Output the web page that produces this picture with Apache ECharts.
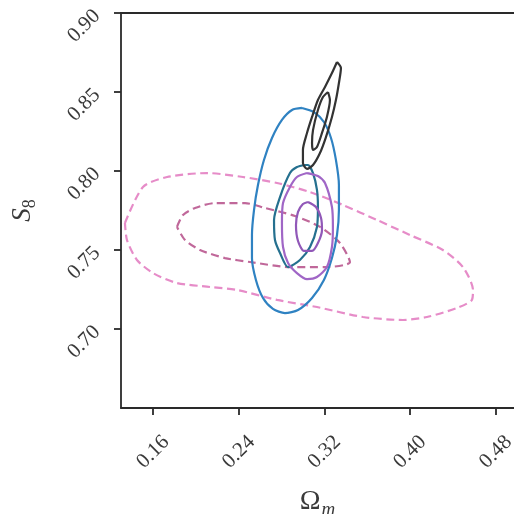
<!DOCTYPE html>
<html>
<head>
<meta charset="utf-8">
<script src="https://cdn.jsdelivr.net/npm/echarts@6/dist/echarts.min.js"></script>
<style>html,body{margin:0;padding:0;background:#fff}#c{width:514px;height:514px}</style>
</head>
<body>
<div id="c"></div>
<script>
// Tick labels
const xTicks = [0.16, 0.24, 0.32, 0.40, 0.48];
const yTicks = [0.70, 0.75, 0.80, 0.85, 0.90];

// Contour paths [Omega_m, S8]
const pinkOuter = [[0.1337,0.7671],[0.1505,0.7899],[0.1730,0.7962],[0.2103,0.7987],[0.2439,0.7962],[0.2757,0.7924],[0.3065,0.7867],[0.3373,0.7785],[0.3690,0.7690],[0.3998,0.7595],[0.4306,0.7500],[0.4493,0.7392],[0.4587,0.7247],[0.4577,0.7184],[0.4437,0.7133],[0.4157,0.7076],[0.3933,0.7057],[0.3560,0.7076],[0.3130,0.7139],[0.2757,0.7184],[0.2383,0.7247],[0.2131,0.7266],[0.1823,0.7291],[0.1599,0.7354],[0.1449,0.7437],[0.1356,0.7563],[0.1337,0.7671]];
const pinkInner = [[0.1823,0.7646],[0.1879,0.7722],[0.1991,0.7766],[0.2178,0.7797],[0.2458,0.7797],[0.2645,0.7766],[0.2925,0.7715],[0.3159,0.7646],[0.3345,0.7544],[0.3438,0.7424],[0.3223,0.7392],[0.2878,0.7392],[0.2505,0.7424],[0.2271,0.7449],[0.2038,0.7500],[0.1898,0.7563],[0.1823,0.7646]];
const blueOuter = [[0.2990,0.8399],[0.3102,0.8373],[0.3195,0.8310],[0.3261,0.8209],[0.3307,0.8070],[0.3335,0.7911],[0.3335,0.7753],[0.3317,0.7595],[0.3270,0.7449],[0.3195,0.7310],[0.3084,0.7196],[0.2953,0.7120],[0.2831,0.7101],[0.2719,0.7127],[0.2626,0.7196],[0.2560,0.7310],[0.2523,0.7449],[0.2523,0.7595],[0.2542,0.7753],[0.2579,0.7911],[0.2635,0.8070],[0.2710,0.8209],[0.2803,0.8323],[0.2897,0.8386],[0.2990,0.8399]];
const blueInner = [[0.3018,0.8038],[0.2943,0.8025],[0.2878,0.7987],[0.2785,0.7835],[0.2729,0.7690],[0.2738,0.7563],[0.2785,0.7481],[0.2860,0.7392],[0.2971,0.7437],[0.3065,0.7519],[0.3130,0.7646],[0.3139,0.7772],[0.3130,0.7880],[0.3093,0.7987],[0.3046,0.8038],[0.3018,0.8038]];
const purpleOuter = [[0.3037,0.7987],[0.3139,0.7968],[0.3205,0.7924],[0.3270,0.7772],[0.3279,0.7646],[0.3270,0.7519],[0.3223,0.7392],[0.3130,0.7329],[0.3037,0.7316],[0.2943,0.7354],[0.2860,0.7418],[0.2813,0.7519],[0.2803,0.7671],[0.2813,0.7797],[0.2878,0.7899],[0.2943,0.7962],[0.3037,0.7987]];
const purpleInner = [[0.3046,0.7804],[0.3121,0.7772],[0.3168,0.7703],[0.3177,0.7627],[0.3139,0.7544],[0.3084,0.7494],[0.3009,0.7494],[0.2953,0.7557],[0.2934,0.7658],[0.2953,0.7741],[0.2999,0.7791],[0.3046,0.7804]];
const blackOuter = [[0.3317,0.8690],[0.3354,0.8652],[0.3335,0.8557],[0.3307,0.8449],[0.3270,0.8342],[0.3214,0.8215],[0.3158,0.8114],[0.3093,0.8038],[0.3037,0.8013],[0.2999,0.8050],[0.2999,0.8133],[0.3037,0.8240],[0.3084,0.8342],[0.3139,0.8449],[0.3205,0.8532],[0.3270,0.8620],[0.3317,0.8690]];
const blackInner = [[0.3233,0.8500],[0.3251,0.8449],[0.3223,0.8342],[0.3177,0.8241],[0.3130,0.8152],[0.3093,0.8133],[0.3084,0.8177],[0.3093,0.8259],[0.3139,0.8386],[0.3186,0.8468],[0.3233,0.8500]];

const chart = echarts.init(document.getElementById('c'), null, {renderer: 'canvas'});
const serif = '"Liberation Serif", "DejaVu Serif", serif';
const axisCol = '#2a2a2a';
const txtCol = '#3a3a3a';

function contour(data, color, dashed) {
  return {
    type: 'line', data: data, smooth: 0.25, showSymbol: false, symbol: 'none',
    silent: true, animation: false,
    lineStyle: {color: color, width: 2.2, type: dashed ? [8, 4.5] : 'solid'}
  };
}

chart.setOption({
  animation: false,
  backgroundColor: '#fff',
  grid: {left: 121, top: 13, right: 0, bottom: 106, containLabel: false, outerBoundsMode: 'none'},
  xAxis: [{
    type: 'value', min: 0.13, max: 0.497, position: 'bottom',
    name: '{o|Ω}{m|m}', nameLocation: 'middle', nameGap: 76,
    nameTextStyle: {rich: {o: {fontFamily: serif, fontSize: 28, color: txtCol}, m: {fontFamily: serif, fontStyle: 'italic', fontSize: 19, color: txtCol, padding: [16, 0, 0, 1]}}},
    axisLine: {show: true, onZero: false, lineStyle: {color: axisCol, width: 1.8}},
    axisTick: {show: true, length: 7, inside: false, customValues: xTicks, lineStyle: {color: axisCol, width: 1.8}},
    axisLabel: {customValues: xTicks, rotate: 45, align: 'center', verticalAlign: 'middle', margin: 44,
      fontFamily: serif, fontSize: 21, color: txtCol, formatter: v => v.toFixed(2)},
    splitLine: {show: false}
  }, {
    type: 'value', min: 0.13, max: 0.497, position: 'top',
    axisLine: {show: true, onZero: false, lineStyle: {color: axisCol, width: 1.8}},
    axisTick: {show: false}, axisLabel: {show: false}, splitLine: {show: false}
  }],
  yAxis: [{
    type: 'value', min: 0.65, max: 0.90, position: 'left',
    name: '{s|S}{e|8}', nameLocation: 'middle', nameGap: 82, nameRotate: 90,
    nameTextStyle: {rich: {s: {fontFamily: serif, fontStyle: 'italic', fontSize: 27, color: txtCol}, e: {fontFamily: serif, fontSize: 18, color: txtCol, padding: [14, 0, 0, 0]}}},
    axisLine: {show: true, onZero: false, lineStyle: {color: axisCol, width: 1.8}},
    axisTick: {show: true, length: 7, inside: false, customValues: yTicks, lineStyle: {color: axisCol, width: 1.8}},
    axisLabel: {customValues: yTicks, rotate: 45, margin: 24,
      fontFamily: serif, fontSize: 21, color: txtCol, formatter: v => v.toFixed(2)},
    splitLine: {show: false}
  }],
  series: [
    contour(pinkOuter, '#e68cc8', true),
    contour(pinkInner, '#c0689a', true),
    contour(blueOuter, '#2f82c2', false),
    contour(blueInner, '#25708f', false),
    contour(purpleOuter, '#a066c6', false),
    contour(purpleInner, '#9158b8', false),
    contour(blackOuter, '#333333', false),
    contour(blackInner, '#333333', false)
  ]
});
</script>
</body>
</html>
